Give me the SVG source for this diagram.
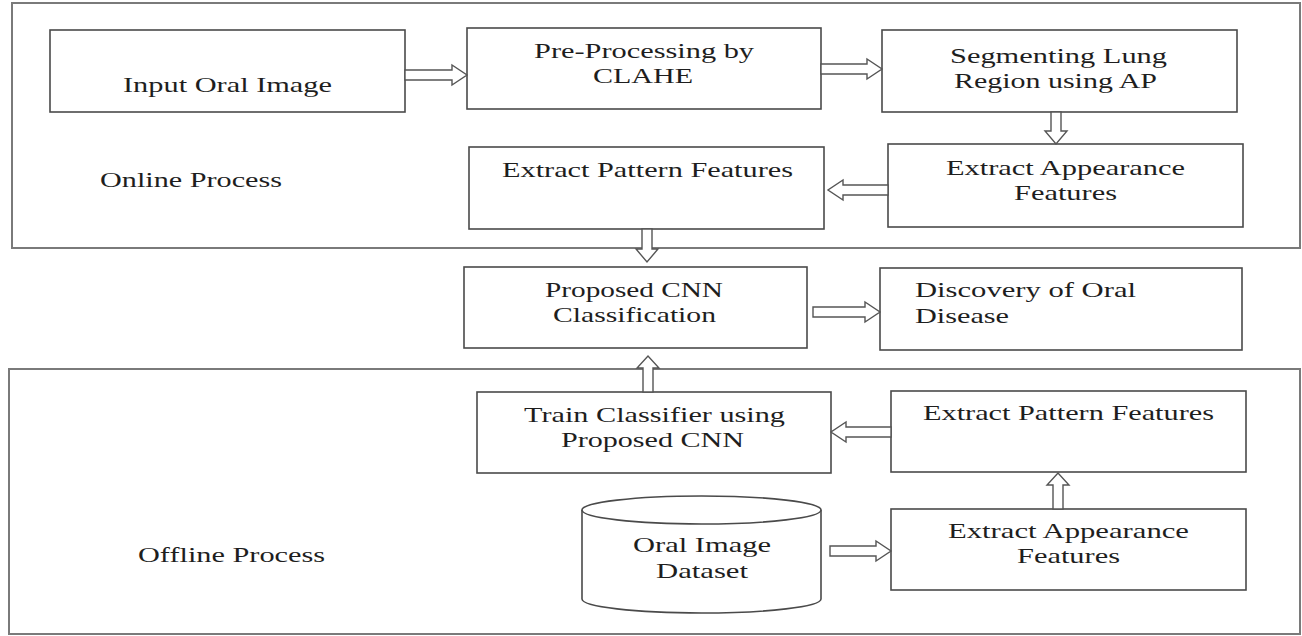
<svg xmlns="http://www.w3.org/2000/svg" width="1302" height="636" viewBox="0 0 1302 636">
<style>
.bg{fill:#ffffff}
.cont{fill:none;stroke:#7a7a7a;stroke-width:2}
.box{fill:#ffffff;stroke:#4a4a4a;stroke-width:1.6}
.arr{fill:#ffffff;stroke:#555555;stroke-width:1.4;stroke-linejoin:miter}
.t{font-family:"Liberation Serif","Times New Roman",serif;font-size:21px;fill:#1e1e1e}
</style>
<rect class="bg" x="0" y="0" width="1302" height="636"/>
<g id="online-process">
<rect class="cont" x="12" y="3" width="1288" height="245"/>
<text class="t" x="100" y="187" textLength="182" lengthAdjust="spacingAndGlyphs">Online Process</text>
</g>
<g id="offline-process">
<rect class="cont" x="9" y="369" width="1291" height="265"/>
<text class="t" x="138" y="562" textLength="187" lengthAdjust="spacingAndGlyphs">Offline Process</text>
</g>
<g id="input-oral-image">
<rect class="box" x="50" y="30" width="355" height="82"/>
<text class="t" x="123" y="92" textLength="209" lengthAdjust="spacingAndGlyphs">Input Oral Image</text>
</g>
<g id="pre-processing">
<rect class="box" x="467" y="28" width="354" height="81"/>
<text class="t" x="534" y="58" textLength="220" lengthAdjust="spacingAndGlyphs">Pre-Processing by</text>
<text class="t" x="593" y="83" textLength="100" lengthAdjust="spacingAndGlyphs">CLAHE</text>
</g>
<g id="segmenting">
<rect class="box" x="882" y="30" width="355" height="82"/>
<text class="t" x="950" y="63" textLength="217" lengthAdjust="spacingAndGlyphs">Segmenting Lung</text>
<text class="t" x="954" y="88" textLength="203" lengthAdjust="spacingAndGlyphs">Region using AP</text>
</g>
<g id="extract-appearance-online">
<rect class="box" x="888" y="144" width="355" height="83"/>
<text class="t" x="946" y="175" textLength="239" lengthAdjust="spacingAndGlyphs">Extract Appearance</text>
<text class="t" x="1014" y="200" textLength="103" lengthAdjust="spacingAndGlyphs">Features</text>
</g>
<g id="extract-pattern-online">
<rect class="box" x="469" y="147" width="355" height="82"/>
<text class="t" x="502" y="177" textLength="291" lengthAdjust="spacingAndGlyphs">Extract Pattern Features</text>
</g>
<g id="proposed-cnn">
<rect class="box" x="464" y="267" width="343" height="81"/>
<text class="t" x="545" y="297" textLength="178" lengthAdjust="spacingAndGlyphs">Proposed CNN</text>
<text class="t" x="553" y="322" textLength="163" lengthAdjust="spacingAndGlyphs">Classification</text>
</g>
<g id="discovery">
<rect class="box" x="880" y="268" width="362" height="82"/>
<text class="t" x="915" y="297" textLength="221" lengthAdjust="spacingAndGlyphs">Discovery of Oral</text>
<text class="t" x="915" y="323" textLength="94" lengthAdjust="spacingAndGlyphs">Disease</text>
</g>
<g id="train-classifier">
<rect class="box" x="477" y="392" width="354" height="81"/>
<text class="t" x="524" y="422" textLength="261" lengthAdjust="spacingAndGlyphs">Train Classifier using</text>
<text class="t" x="561" y="447" textLength="183" lengthAdjust="spacingAndGlyphs">Proposed CNN</text>
</g>
<g id="extract-pattern-offline">
<rect class="box" x="891" y="391" width="355" height="81"/>
<text class="t" x="923" y="420" textLength="291" lengthAdjust="spacingAndGlyphs">Extract Pattern Features</text>
</g>
<g id="extract-appearance-offline">
<rect class="box" x="891" y="509" width="355" height="81"/>
<text class="t" x="948" y="538" textLength="241" lengthAdjust="spacingAndGlyphs">Extract Appearance</text>
<text class="t" x="1017" y="563" textLength="103" lengthAdjust="spacingAndGlyphs">Features</text>
</g>
<g id="oral-image-dataset">
<path class="box" d="M582,510 L582,599 A119.5,14 0 0 0 821,599 L821,510 A119.5,14 0 0 0 582,510 Z"/>
<path class="box" fill="none" d="M582,510 A119.5,14 0 0 0 821,510"/>
<text class="t" x="633" y="552" textLength="138" lengthAdjust="spacingAndGlyphs">Oral Image</text>
<text class="t" x="656" y="578" textLength="92" lengthAdjust="spacingAndGlyphs">Dataset</text>
</g>
<g id="connectors">
<path class="arr" d="M405,70 L452,70 L452,65 L467,75 L452,85 L452,80 L405,80 Z"/>
<path class="arr" d="M821,64 L867,64 L867,59 L882,69 L867,79 L867,74 L821,74 Z"/>
<path class="arr" d="M1051,112 L1051,131 L1045,131 L1056,144 L1067,131 L1061,131 L1061,112 Z"/>
<path class="arr" d="M888,185 L843,185 L843,180 L828,190 L843,200 L843,195 L888,195 Z"/>
<path class="arr" d="M642,229 L642,249 L636,249 L647,262 L658,249 L652,249 L652,229 Z"/>
<path class="arr" d="M813,307 L865,307 L865,302 L880,312 L865,322 L865,317 L813,317 Z"/>
<path class="arr" d="M643,392 L643,368 L637,368 L648,356 L659,368 L653,368 L653,392 Z"/>
<path class="arr" d="M891,427 L846,427 L846,422 L831,432 L846,442 L846,437 L891,437 Z"/>
<path class="arr" d="M1053,509 L1053,485 L1047,485 L1058,473 L1069,485 L1063,485 L1063,509 Z"/>
<path class="arr" d="M830,546 L876,546 L876,541 L891,551 L876,561 L876,556 L830,556 Z"/>
</g>
</svg>
